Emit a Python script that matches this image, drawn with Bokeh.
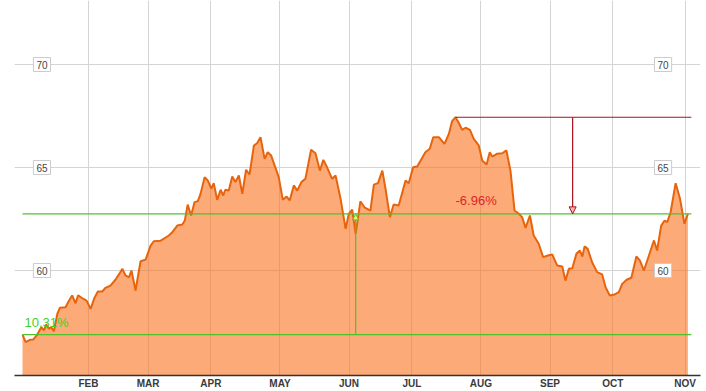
from bokeh.plotting import figure
from bokeh.models import Range1d, FixedTicker, Grid, Label, Arrow, NormalHead
from bokeh.embed import file_html
from bokeh.resources import INLINE

# trading-day index (0 = first trading day of January) and closing prices
days = [0.0, 1.0, 2.5, 3.4, 4.7, 6.0, 6.8, 7.6, 8.4, 9.1, 10.0, 11.1, 11.9, 13.7, 14.7, 15.8,
        16.9, 17.7, 19.3, 20.4, 21.7, 22.9, 24.0, 25.4, 26.4, 28.0, 29.6, 30.7, 31.8, 32.8,
        33.9, 34.7, 36.0, 37.6, 39.2, 40.8, 41.8, 43.9, 46.6, 47.7, 49.3, 50.9, 51.7, 52.6,
        53.7, 54.8, 55.8, 56.7, 58.0, 59.0, 60.1, 60.9, 62.0, 63.1, 63.9, 64.6, 65.7, 66.8,
        67.8, 68.9, 70.0, 71.2, 72.3, 73.7, 74.7, 75.8, 77.1, 78.1, 79.2, 81.6, 82.9, 84.1,
        85.1, 86.4, 87.5, 88.8, 90.1, 91.9, 93.3, 94.7, 95.8, 97.0, 98.6, 99.7, 101.3, 102.9,
        103.9, 105.0, 106.1, 107.6, 108.9, 110.8, 111.9, 113.2, 114.6, 115.6, 117.0, 118.2,
        119.8, 122.0, 123.0, 124.4, 125.7, 126.8, 128.3, 129.7, 130.8, 132.6, 134.4, 135.8,
        136.8, 137.9, 139.0, 140.0, 141.1, 142.5, 143.7, 145.3, 146.4, 147.8, 148.8, 149.6,
        151.2, 152.8, 154.1, 155.4, 156.7, 158.1, 159.1, 160.2, 161.6, 162.8, 164.4, 165.8,
        167.3, 168.7, 170.3, 171.9, 172.9, 174.0, 175.1, 176.4, 177.5, 178.3, 179.0, 180.0,
        181.4, 183.0, 184.6, 185.7, 187.0, 188.5, 189.9, 191.0, 192.4, 193.9, 195.5, 196.6,
        197.9, 199.5, 201.1, 202.1, 203.4, 204.5, 205.3, 206.4, 208.0, 209.4, 210.8, 211.9]
prices = [56.89, 56.52, 56.64, 56.65, 56.89, 57.25, 57.09, 57.38, 57.17, 57.25, 57.05, 57.90,
          58.19, 58.22, 58.51, 58.79, 58.41, 58.79, 58.63, 58.54, 58.14, 58.67, 58.98, 58.98,
          59.16, 59.27, 59.55, 59.81, 60.08, 59.76, 59.67, 60.00, 59.03, 60.45, 60.53, 61.21,
          61.42, 61.44, 61.70, 61.86, 62.18, 62.23, 62.43, 63.20, 62.67, 63.32, 63.36, 63.72,
          64.53, 64.37, 63.97, 64.24, 63.43, 63.92, 63.64, 63.92, 63.88, 64.56, 64.29, 64.61,
          63.72, 64.89, 64.66, 66.07, 66.18, 66.47, 65.42, 65.74, 65.58, 64.53, 63.43, 63.59,
          63.40, 64.13, 63.88, 64.29, 64.45, 65.86, 65.69, 64.85, 65.37, 65.01, 64.45, 64.61,
          63.48, 62.02, 62.75, 62.95, 61.78, 63.36, 63.07, 62.91, 64.17, 64.24, 64.85, 63.97,
          62.59, 63.20, 63.16, 64.37, 64.24, 65.01, 65.05, 65.34, 65.74, 65.91, 66.47, 66.47,
          66.15, 66.64, 67.25, 67.44, 67.15, 66.83, 66.93, 66.83, 66.39, 66.07, 65.34, 65.15,
          65.74, 65.53, 65.67, 65.69, 65.83, 64.85, 62.91, 62.75, 62.59, 62.07, 62.67, 61.70,
          61.30, 60.65, 60.73, 60.78, 60.24, 60.19, 59.51, 60.08, 60.11, 60.81, 60.97, 60.68,
          61.17, 61.05, 60.40, 59.92, 59.81, 59.19, 58.79, 58.83, 58.95, 59.35, 59.55, 59.65,
          60.68, 60.49, 60.00, 60.73, 61.46, 60.97, 62.18, 62.43, 62.34, 62.83, 64.24, 63.48,
          62.27, 62.75]

month_days = [21, 40, 60, 82, 104, 124, 146, 168, 188, 211]
month_labels = ["FEB", "MAR", "APR", "MAY", "JUN", "JUL", "AUG", "SEP", "OCT", "NOV"]
y_ticks = [60, 65, 70]
pct_labels = ["10.31%", "-6.96%"]   # gain over period, drawdown from peak
marker_day = 106.1                  # green vertical marker
arrow_day = 175.2                   # drawdown arrow

first = prices[0]
last = prices[-1]
peak = max(prices)
peak_day = days[prices.index(peak)]
end_day = 213.0

FONT = "Liberation Sans"
LINE = "#e8640c"
FILL = "#f9711e"
GREEN = "#4cc42a"
GREEN_TXT = "#3fd02a"
DRED = "#a8101c"
RED_TXT = "#e0242a"

p = figure(width=706, height=391, output_backend="svg", toolbar_location=None,
           x_range=Range1d(-2.548, 215.92), y_range=Range1d(54.903, 73.107),
           y_axis_location=None, min_border_left=14, min_border_right=6,
           min_border_top=0, min_border_bottom=16)
p.outline_line_color = None
p.background_fill_color = "white"

# grids
p.xgrid.ticker = FixedTicker(ticks=month_days)
p.xgrid.grid_line_color = "#d4d4d4"
p.ygrid.grid_line_color = None
p.add_layout(Grid(dimension=1, ticker=FixedTicker(ticks=y_ticks), grid_line_color="#d4d4d4"))

# x axis
ax = p.xaxis[0]
ax.ticker = FixedTicker(ticks=month_days)
ax.major_label_overrides = {d: l for d, l in zip(month_days, month_labels)}
ax.major_tick_line_color = None
ax.minor_tick_line_color = None
ax.major_tick_out = 0
ax.major_tick_in = 0
ax.axis_line_color = "#333333"
ax.axis_line_width = 1.5
ax.major_label_standoff = 2
ax.major_label_text_font = FONT
ax.major_label_text_font_style = "bold"
ax.major_label_text_font_size = "10px"
ax.major_label_text_color = "#3a3a3a"

# area + line
p.varea(x=days, y1=p.y_range.start, y2=prices, fill_color=FILL, fill_alpha=0.6)
p.line(days, prices, line_color=LINE, line_width=2)

# reference lines
p.segment(x0=[days[0], days[0]], y0=[last, first], x1=[end_day, end_day], y1=[last, first],
          line_color=GREEN, line_width=1.2)
p.segment(x0=[peak_day], y0=[peak], x1=[end_day], y1=[peak], line_color=DRED, line_width=1.2)

p.add_layout(Arrow(end=NormalHead(size=7, fill_color="#ffb4b4", line_color=DRED, line_width=1),
                   x_start=arrow_day, y_start=peak, x_end=arrow_day, y_end=last,
                   line_color=DRED, line_width=1.2))
p.add_layout(Arrow(end=NormalHead(size=6, fill_color="#f4ff70", line_color=GREEN, line_width=1),
                   x_start=marker_day, y_start=first, x_end=marker_day, y_end=last,
                   line_color=GREEN, line_width=1.2))

# percentage labels
p.add_layout(Label(x=days[0], y=first, text=pct_labels[0], text_align="left",
                   text_baseline="bottom", x_offset=2, y_offset=5, text_color=GREEN_TXT,
                   text_font=FONT, text_font_size="13px"))
p.add_layout(Label(x=peak_day, y=last, text=pct_labels[1], text_align="left",
                   text_baseline="bottom", x_offset=0, y_offset=6, text_color=RED_TXT,
                   text_font=FONT, text_font_size="13px"))

# boxed y labels inside the plot, on both sides
for xpos in (6.2, 204.0):
    for t in y_ticks:
        p.add_layout(Label(x=xpos, y=t, text=str(t), text_align="center",
                           text_baseline="middle", text_font=FONT, text_font_size="10px",
                           text_color="#444444", background_fill_color="white",
                           border_line_color="#cccccc", border_line_width=1, padding=3))

open("out.html", "w").write(file_html(p, INLINE))
